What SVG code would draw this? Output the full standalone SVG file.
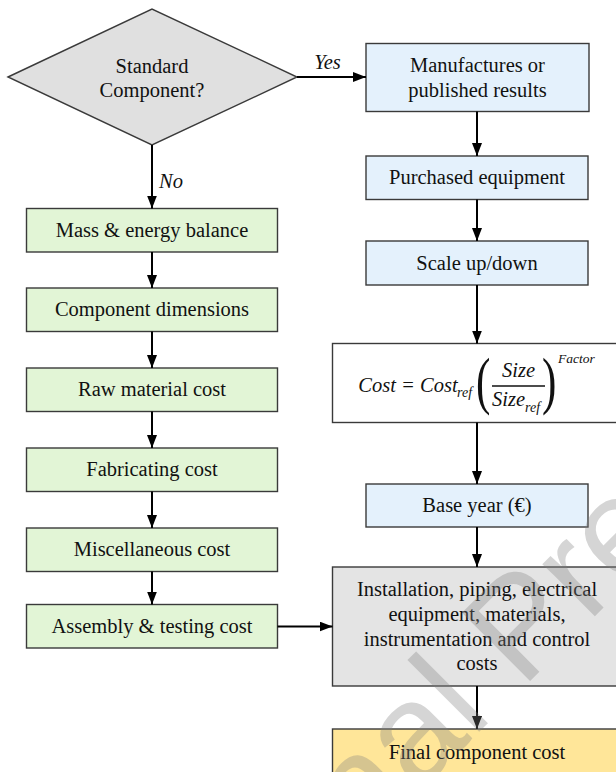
<svg xmlns="http://www.w3.org/2000/svg" width="616" height="772" viewBox="0 0 616 772">
<defs>
<style>
.t{font-family:"Liberation Serif","Times New Roman",serif;font-size:20.5px;fill:#111;text-anchor:middle}
.i{font-family:"Liberation Serif","Times New Roman",serif;font-style:italic;fill:#111}
.p{font-family:"Liberation Serif","Times New Roman",serif;font-size:36px;fill:#111}
.box{stroke:#3a3a3a;stroke-width:1.4}
.g{fill:#e2f5d6}
.b{fill:#e4f1fc}
.gr{fill:#e4e4e4}
.y{fill:#ffe699}
.w{fill:#ffffff}
.c{stroke:#000;stroke-width:2;fill:none;marker-end:url(#ah)}
</style>
<marker id="ah" markerUnits="userSpaceOnUse" markerWidth="13" markerHeight="10" refX="13" refY="5" orient="auto">
<path d="M0,0 L13,5 L0,10 z" fill="#000"/>
</marker>
</defs>
<rect width="616" height="772" fill="#fff"/>

<g id="decision">
<polygon class="box" points="8,77 152,9 297,77 152,145" fill="#e0e0e0"/>
<text class="t" x="152" y="72.7">Standard</text>
<text class="t" x="152" y="97.3">Component?</text>
</g>

<g id="mass"><rect class="box g" x="26.5" y="208.5" width="251" height="43.5"/><text class="t" x="152" y="236.7">Mass &amp; energy balance</text></g>
<g id="dimensions"><rect class="box g" x="26.5" y="288" width="251" height="43.5"/><text class="t" x="152" y="316.2">Component dimensions</text></g>
<g id="raw"><rect class="box g" x="26.5" y="368" width="251" height="43.5"/><text class="t" x="152" y="396.2">Raw material cost</text></g>
<g id="fabricating"><rect class="box g" x="26.5" y="448" width="251" height="43.5"/><text class="t" x="152" y="476.2">Fabricating cost</text></g>
<g id="misc"><rect class="box g" x="26.5" y="528" width="251" height="43.5"/><text class="t" x="152" y="556.2">Miscellaneous cost</text></g>
<g id="assembly"><rect class="box g" x="26.5" y="604.5" width="251" height="43.5"/><text class="t" x="152" y="632.7">Assembly &amp; testing cost</text></g>

<g id="manufactures"><rect class="box b" x="366" y="43.5" width="223" height="68"/><text class="t" x="477.5" y="72.3">Manufactures or</text><text class="t" x="477.5" y="96.7">published results</text></g>
<g id="purchased"><rect class="box b" x="366" y="156" width="222" height="43.5"/><text class="t" x="477" y="184.3">Purchased equipment</text></g>
<g id="scale"><rect class="box b" x="366" y="241" width="222" height="44"/><text class="t" x="477" y="270">Scale up/down</text></g>

<g id="formula">
<rect class="box w" x="332.5" y="343.5" width="300" height="79"/>
<text class="i" x="358.3" y="392.3" font-size="20.5">Cost = Cost</text>
<text class="i" x="457" y="397" font-size="14">ref</text>
<text class="p" transform="translate(476,401.5) scale(1.2,1.75)">(</text>
<text class="i" x="502" y="376.7" font-size="20.5">Size</text>
<line x1="492" y1="386" x2="545" y2="386" stroke="#111" stroke-width="1.6"/>
<text class="i" x="492" y="406" font-size="20.5">Size</text>
<text class="i" x="525" y="411.7" font-size="14">ref</text>
<text class="p" transform="translate(542,401.5) scale(1.2,1.75)">)</text>
<text class="i" x="558" y="363.3" font-size="13.5">Factor</text>
</g>

<g id="baseyear"><rect class="box b" x="366" y="484" width="222" height="43"/><text class="t" x="477" y="512.3">Base year (€)</text></g>
<g id="installation"><rect class="box gr" x="332.5" y="567" width="300" height="119"/>
<text class="t" x="477" y="596">Installation, piping, electrical</text>
<text class="t" x="477" y="620.8">equipment, materials,</text>
<text class="t" x="477" y="645.6">instrumentation and control</text>
<text class="t" x="477" y="670.4">costs</text></g>
<g id="final"><rect class="box y" x="332.5" y="729" width="300" height="44"/><text class="t" x="477" y="759">Final component cost</text></g>

<g id="connectors">
<line class="c" x1="297" y1="77" x2="366" y2="77"/>
<line class="c" x1="152" y1="145" x2="152" y2="208.5"/>
<line class="c" x1="152" y1="252" x2="152" y2="288"/>
<line class="c" x1="152" y1="331.5" x2="152" y2="368"/>
<line class="c" x1="152" y1="411.5" x2="152" y2="448"/>
<line class="c" x1="152" y1="491.5" x2="152" y2="528"/>
<line class="c" x1="152" y1="571.5" x2="152" y2="604.5"/>
<line class="c" x1="277.5" y1="626.5" x2="332.5" y2="626.5"/>
<line class="c" x1="477" y1="111.5" x2="477" y2="156"/>
<line class="c" x1="477" y1="199.5" x2="477" y2="241"/>
<line class="c" x1="477" y1="285" x2="477" y2="343.5"/>
<line class="c" x1="477" y1="422.5" x2="477" y2="484"/>
<line class="c" x1="477" y1="527" x2="477" y2="567"/>
<line class="c" x1="477" y1="686" x2="477" y2="729"/>
<text class="i" x="327.5" y="69.3" font-size="20.5" text-anchor="middle">Yes</text>
<text class="i" x="159" y="188.3" font-size="20.5">No</text>
</g>

<text transform="translate(483,728) rotate(-45)" x="-443" y="0" font-family="Liberation Sans,Arial,sans-serif" font-size="140" fill="#808080" fill-opacity="0.33">Journal Pre-proof</text>
</svg>
